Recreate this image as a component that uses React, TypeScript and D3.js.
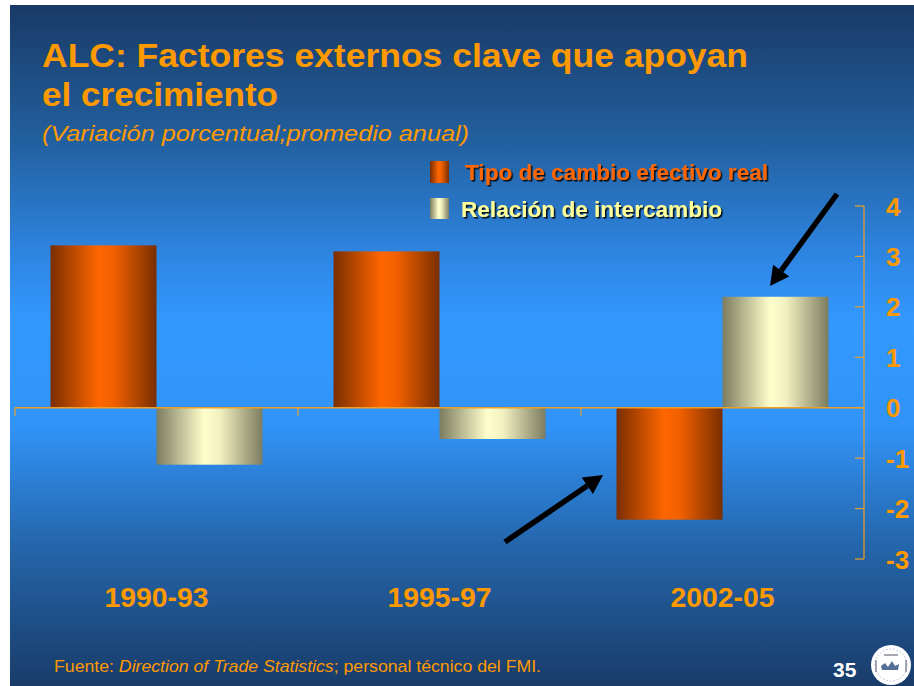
import React from "react";
import * as d3 from "d3";

const categories = ["1990-93", "1995-97", "2002-05"];
const seriesNames = ["Tipo de cambio efectivo real", "Relación de intercambio"];
const tipoCambio = [3.22, 3.1, -2.22];
const relacionIntercambio = [-1.13, -0.62, 2.2];
const yTicks = [4, 3, 2, 1, 0, -1, -2, -3];

const W = 914;
const H = 686;

export default function App() {
  const x0 = d3.scaleBand<string>().domain(categories).range([15, 864]).paddingInner(0).paddingOuter(0);
  const x1 = d3.scaleBand<string>().domain(seriesNames).range([0, x0.bandwidth()]).paddingInner(0).paddingOuter(0.335);
  const y = d3.scaleLinear().domain([-3, 4]).range([559, 206]);
  const values = [tipoCambio, relacionIntercambio];
  const fills = ["url(#gOrange)", "url(#gCream)"];
  const axisColor = "#f0a020";
  const font = "'Liberation Sans', Arial, sans-serif";

  const arrow = (x1a: number, y1a: number, x2a: number, y2a: number, key: string) => {
    const ang = Math.atan2(y2a - y1a, x2a - x1a);
    const headLen = 19;
    const headW = 10;
    const bx = x2a - headLen * Math.cos(ang);
    const by = y2a - headLen * Math.sin(ang);
    const px = -Math.sin(ang) * headW;
    const py = Math.cos(ang) * headW;
    return (
      <g key={key}>
        <line x1={x1a} y1={y1a} x2={bx} y2={by} stroke="#000" strokeWidth={5.5} />
        <path d={`M${x2a},${y2a}L${bx + px},${by + py}L${bx - px},${by - py}Z`} fill="#000" />
      </g>
    );
  };

  return (
    <svg width={W} height={H} style={{ position: "absolute", left: 0, top: 0, display: "block" }}>
      <defs>
        <linearGradient id="bg" x1="0" y1="0" x2="0" y2="1">
          <stop offset="0" stopColor="#193a66" />
          <stop offset="0.2" stopColor="#22609f" />
          <stop offset="0.38" stopColor="#2f88e6" />
          <stop offset="0.47" stopColor="#3399ff" />
          <stop offset="0.62" stopColor="#3193f6" />
          <stop offset="0.8" stopColor="#2464a8" />
          <stop offset="1" stopColor="#193c69" />
        </linearGradient>
        <linearGradient id="gOrange" x1="0" y1="0" x2="1" y2="0">
          <stop offset="0" stopColor="#7a2e00" />
          <stop offset="0.45" stopColor="#ff6600" />
          <stop offset="0.6" stopColor="#f06000" />
          <stop offset="1" stopColor="#7a2e00" />
        </linearGradient>
        <linearGradient id="gCream" x1="0" y1="0" x2="1" y2="0">
          <stop offset="0" stopColor="#7c7c60" />
          <stop offset="0.45" stopColor="#ffffcc" />
          <stop offset="0.6" stopColor="#f2f0c0" />
          <stop offset="1" stopColor="#7c7c60" />
        </linearGradient>
        <filter id="shadow" x="-5%" y="-20%" width="110%" height="150%">
          <feDropShadow dx="1.6" dy="1.6" stdDeviation="0.3" floodColor="#000" floodOpacity="0.85" />
        </filter>
      </defs>
      <rect x={10} y={5} width={W - 10} height={H - 5} fill="url(#bg)" />

      {/* Title */}
      <text x={42} y={67} fill="#ff9900" fontFamily={font} fontWeight="bold" fontSize={34} textLength={706} lengthAdjust="spacingAndGlyphs">
        ALC: Factores externos clave que apoyan
      </text>
      <text x={42} y={106} fill="#ff9900" fontFamily={font} fontWeight="bold" fontSize={34} textLength={236} lengthAdjust="spacingAndGlyphs">
        el crecimiento
      </text>
      <text x={42} y={141} fill="#ff9900" fontFamily={font} fontStyle="italic" fontSize={22.5} textLength={427} lengthAdjust="spacingAndGlyphs">
        (Variación porcentual;promedio anual)
      </text>

      {/* Legend */}
      <rect x={430} y={161} width={19} height={22} fill="url(#gOrange)" />
      <text x={465} y={180} fill="#ff6600" fontFamily={font} fontWeight="bold" fontSize={22} filter="url(#shadow)" textLength={303} lengthAdjust="spacingAndGlyphs">
        {seriesNames[0]}
      </text>
      <rect x={430} y={198} width={19} height={21} fill="url(#gCream)" />
      <text x={461} y={217} fill="#ffff99" fontFamily={font} fontWeight="bold" fontSize={22} filter="url(#shadow)" textLength={261} lengthAdjust="spacingAndGlyphs">
        {seriesNames[1]}
      </text>

      {/* Bars */}
      {categories.map((c, ci) =>
        seriesNames.map((s, si) => {
          const v = values[si][ci];
          const bx = (x0(c) as number) + (x1(s) as number);
          return (
            <rect
              key={c + s}
              x={bx}
              y={y(Math.max(0, v))}
              width={x1.bandwidth()}
              height={Math.abs(y(v) - y(0))}
              fill={fills[si]}
            />
          );
        })
      )}

      {/* X axis */}
      <line x1={15} x2={864} y1={y(0)} y2={y(0)} stroke={axisColor} strokeWidth={1.5} />
      {categories.map((c) => (
        <line key={"xt" + c} x1={x0(c) as number} x2={x0(c) as number} y1={y(0)} y2={y(0) + 8} stroke={axisColor} strokeWidth={1.2} />
      ))}
      {categories.map((c) => (
        <text
          key={"xl" + c}
          x={(x0(c) as number) + x0.bandwidth() / 2}
          y={607}
          textAnchor="middle"
          fill="#ff9900"
          fontFamily={font}
          fontWeight="bold"
          fontSize={28}
          textLength={104}
          lengthAdjust="spacingAndGlyphs"
        >
          {c}
        </text>
      ))}

      {/* Y axis */}
      <line x1={864} x2={864} y1={y(4)} y2={y(-3)} stroke={axisColor} strokeWidth={1.2} />
      {yTicks.map((t) => (
        <g key={"yt" + t}>
          <line x1={855} x2={864} y1={y(t)} y2={y(t)} stroke={axisColor} strokeWidth={1.2} />
          <text x={886} y={y(t) + 9.5} fill="#ff9900" fontFamily={font} fontWeight="bold" fontSize={26}>
            {t}
          </text>
        </g>
      ))}

      {/* Arrows */}
      {arrow(837, 194, 770, 286, "a1")}
      {arrow(505, 542, 603, 475, "a2")}

      {/* Footer */}
      <text x={54} y={672} fill="#ff9900" fontFamily={font} fontSize={17} textLength={487} lengthAdjust="spacingAndGlyphs">
        Fuente: <tspan fontStyle="italic">Direction of Trade Statistics</tspan>; personal técnico del FMI.
      </text>
      <text x={833} y={677} fill="#ffffff" fontFamily={font} fontWeight="bold" fontSize={21}>
        35
      </text>
      <g>
        <circle cx={891} cy={665} r={20} fill="#ffffff" />
        <circle cx={891} cy={665} r={16} fill="none" stroke="#9ab" strokeWidth={0.8} strokeDasharray="1.5 2" />
        <line x1={884} x2={898} y1={655} y2={655} stroke="#556" strokeWidth={1} />
        <path d="M881,666 l4,-3 l3,4 l4,-6 l3,5 l4,-2 l-1,6 l-16,0 Z" fill="#2a4a7a" opacity={0.8} />
        <line x1={876} x2={876} y1={660} y2={672} stroke="#556" strokeWidth={1} />
        <line x1={906} x2={906} y1={660} y2={672} stroke="#556" strokeWidth={1} />
      </g>
    </svg>
  );
}
